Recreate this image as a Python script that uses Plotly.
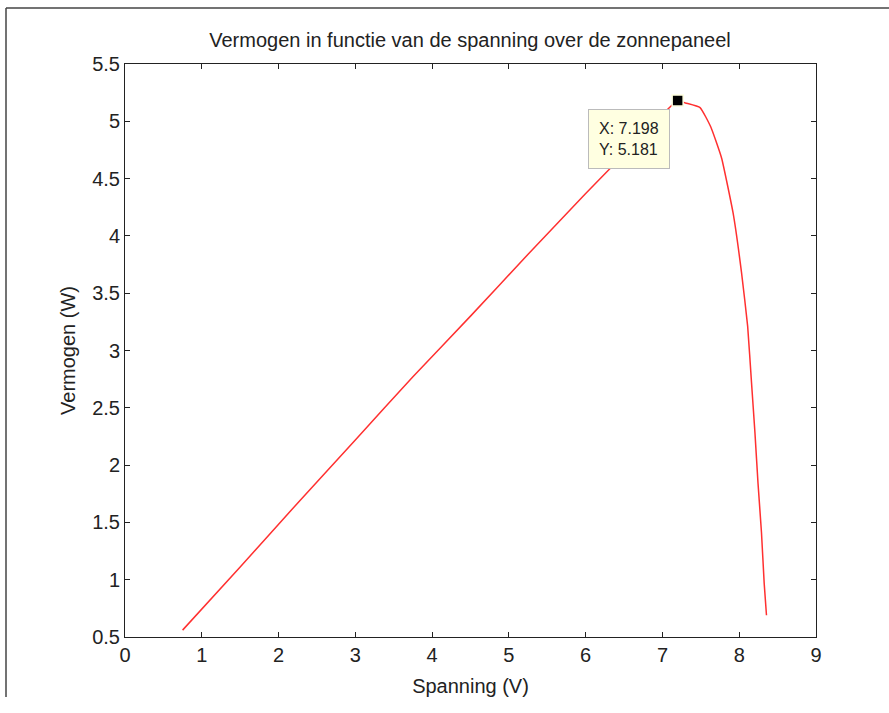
import plotly.graph_objects as go

# Data (voltage V, power W)
spanning = [0.75, 1.5, 2.25, 3.0, 3.75, 4.5, 5.25, 6.0, 6.6, 7.198, 7.30, 7.49,
            7.63, 7.77, 7.92, 8.03, 8.11, 8.16, 8.205, 8.245, 8.29, 8.325, 8.355]
vermogen = [0.56, 1.11, 1.67, 2.22, 2.77, 3.30, 3.84, 4.37, 4.78, 5.181, 5.16, 5.12,
            4.95, 4.68, 4.20, 3.68, 3.21, 2.72, 2.28, 1.84, 1.41, 0.97, 0.69]

tip_x = [7.198]
tip_y = [5.181]

x_ticks = list(range(0, 10))
y_ticks = [0.5, 1, 1.5, 2, 2.5, 3, 3.5, 4, 4.5, 5, 5.5]

FONT = "Liberation Sans, Arial"

fig = go.Figure()
fig.add_trace(go.Scatter(x=spanning, y=vermogen, mode="lines", line_shape="spline",
                         line=dict(color="#ff3030", width=1.5, smoothing=0.4),
                         showlegend=False, hoverinfo="skip"))
fig.add_trace(go.Scatter(x=tip_x, y=tip_y, mode="markers",
                         marker=dict(symbol="square", size=11, color="black",
                                     line=dict(color="#ffffe0", width=1.5)),
                         showlegend=False, hoverinfo="skip"))

fig.add_annotation(x=tip_x[0], y=tip_y[0], xref="x", yref="y",
                   text=f"X: {tip_x[0]:.3f}<br>Y: {tip_y[0]:.3f}",
                   showarrow=False, xanchor="right", yanchor="top",
                   xshift=-8, yshift=-8, align="left",
                   bgcolor="#ffffe1", bordercolor="#bbbbbb", borderwidth=1, borderpad=10,
                   font=dict(family=FONT, size=16, color="#222"))

axis_common = dict(showline=True, linecolor="#222", linewidth=1, mirror="ticks",
                   ticks="inside", ticklen=5, tickcolor="#222", showgrid=False,
                   zeroline=False,
                   tickfont=dict(family=FONT, size=20, color="#222"))

fig.update_xaxes(range=[0, 9], tickvals=x_ticks,
                 title=dict(text="Spanning (V)", standoff=13,
                            font=dict(family=FONT, size=20, color="#222")),
                 **axis_common)
fig.update_yaxes(range=[0.5, 5.5], tickvals=y_ticks,
                 title=dict(text="Vermogen (W)", standoff=11,
                            font=dict(family=FONT, size=20, color="#222")),
                 **axis_common)

fig.update_layout(
    width=889, height=713,
    margin=dict(l=125, r=73, t=64, b=76),
    paper_bgcolor="white", plot_bgcolor="white",
    title=dict(text="Vermogen in functie van de spanning over de zonnepaneel",
               x=470 / 889, xanchor="center", y=1 - 40 / 713, yanchor="middle",
               font=dict(family=FONT, size=20, color="#222")),
)

# Outer window frame (left and top edges)
fig.add_shape(type="line", xref="paper", yref="paper",
              x0=(6 - 125) / 691, x1=(6 - 125) / 691,
              y0=(637 - 8) / 573, y1=(637 - 697) / 573,
              line=dict(color="#444", width=1.5))
fig.add_shape(type="line", xref="paper", yref="paper",
              x0=(6 - 125) / 691, x1=(889 - 125) / 691,
              y0=(637 - 8) / 573, y1=(637 - 8) / 573,
              line=dict(color="#444", width=1.5))

fig.write_html("out.html")
